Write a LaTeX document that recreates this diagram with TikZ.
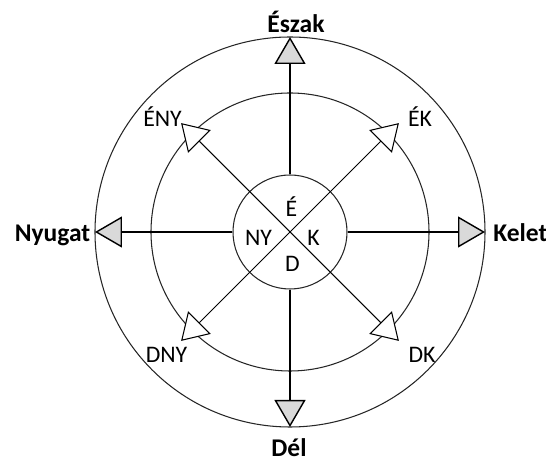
\documentclass[tikz,border=0pt]{standalone}
\usepackage{fontspec}
\setmainfont{Carlito}
\usetikzlibrary{arrows.meta}

\begin{document}
\begin{tikzpicture}[
		ring/.style={draw=black!85, line width=0.6pt},
		main/.style={line width=0.8pt, -{Triangle[length=0.54cm, width=0.62cm, fill=black!15]}},
		side/.style={line width=0.6pt, -{Triangle[length=0.52cm, width=0.64cm, fill=white]}},
		big/.style={font=\bfseries\fontsize{14.5}{16}\selectfont, inner sep=0pt},
		small/.style={font=\fontsize{13.5}{15}\selectfont, inner sep=0pt}
	]
	\useasboundingbox (-5.8,-4.58) rectangle (5.12,4.64);
	% \draw[help lines] (-5,-4) grid (5,4);
	\draw[ring] (0,0) circle (3.9);
	\draw[ring] (0,0) circle (2.78);
	\node[circle, ring, minimum size=2.28cm, inner sep=0pt] (hub) at (0,0) {};

	% main directions
	\coordinate (n) at (90:3.9);
	\coordinate (s) at (270:3.9);
	\coordinate (w) at (180:3.9);
	\coordinate (e) at (0:3.9);
	\draw[main] (hub.north) -- (n);
	\draw[main] (hub.south) -- (s);
	\draw[main] (hub.west) -- (w);
	\draw[main] (hub.east) -- (e);

	% in-between directions
	\coordinate (ne) at (45:3.08);
	\coordinate (nw) at (135:3.08);
	\coordinate (sw) at (225:3.08);
	\coordinate (se) at (315:3.08);
	\draw[side] (hub.center) -- (ne);
	\draw[side] (hub.center) -- (nw);
	\draw[side] (hub.center) -- (sw);
	\draw[side] (hub.center) -- (se);

	% labels
	\node[big] (north) at (0.12,4.2) {Észak};
	\node[big] (south) at (-0.02,-4.32) {Dél};
	\node[big] (west) at (-4.75,-0.06) {Nyugat};
	\node[big, anchor=west] (east) at (4.06,-0.02) {Kelet};

	\node[small] (nwl) at (-2.55,2.31) {ÉNY};
	\node[small] (nel) at (2.6,2.31) {ÉK};
	\node[small] (swl) at (-2.47,-2.46) {DNY};
	\node[small] (sel) at (2.64,-2.46) {DK};

	\node[small] (hn) at (0.03,0.51) {É};
	\node[small] (hs) at (0.05,-0.64) {D};
	\node[small] (hw) at (-0.63,-0.11) {NY};
	\node[small] (he) at (0.47,-0.11) {K};
\end{tikzpicture}
\end{document}
